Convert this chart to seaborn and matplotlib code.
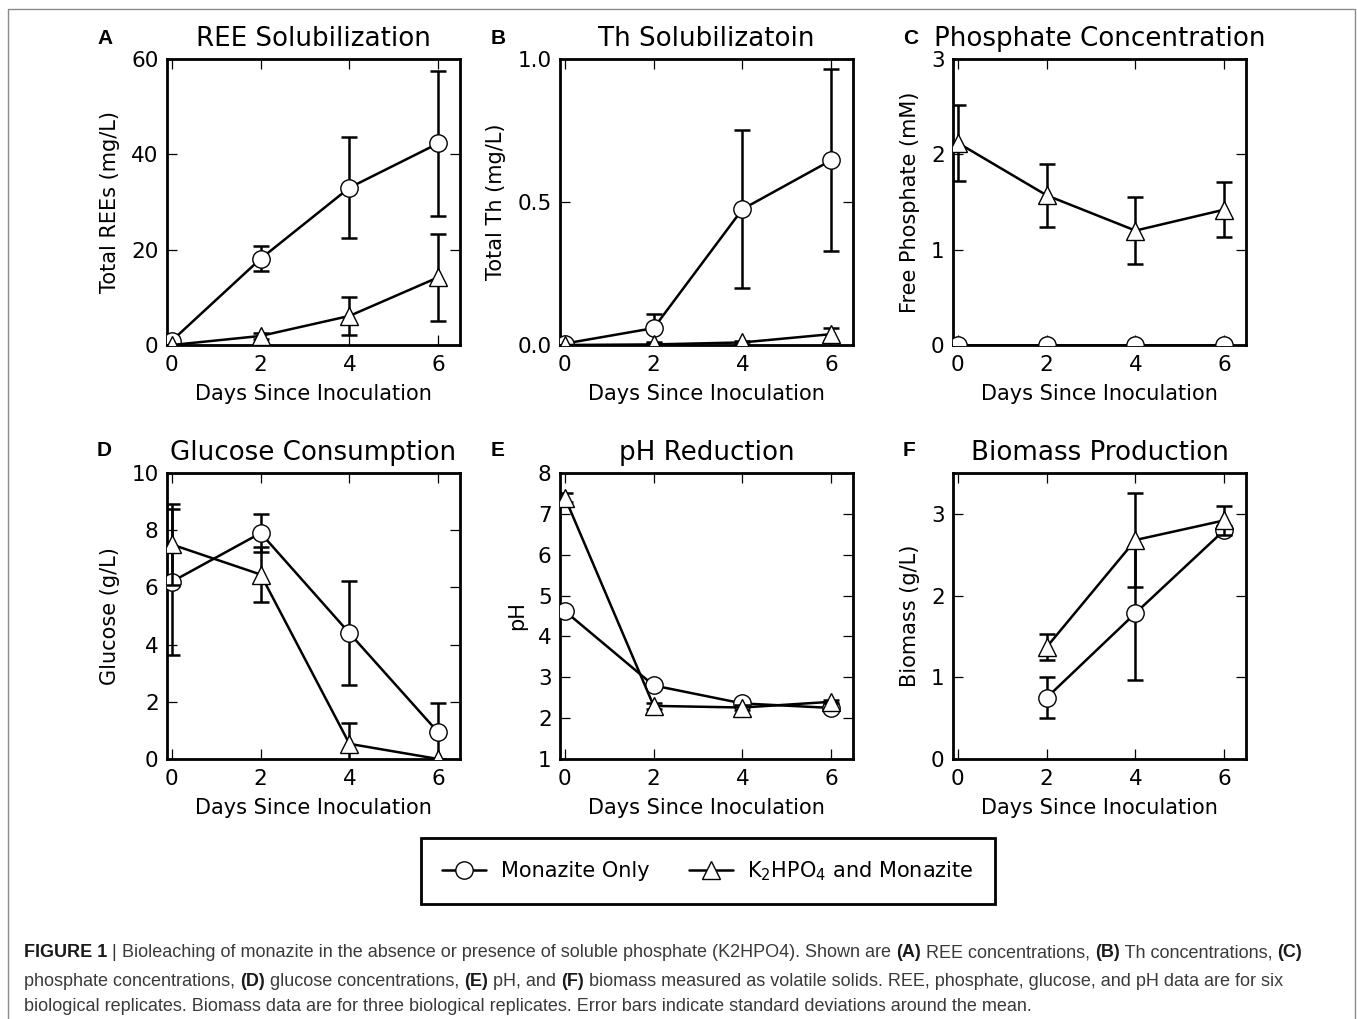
import numpy as np
import pandas as pd
import matplotlib
matplotlib.use("Agg")
import matplotlib.pyplot as plt
from matplotlib.lines import Line2D
from matplotlib.patches import Rectangle
import seaborn as sns

# ---------------- data ----------------
days = [0, 2, 4, 6]
days_bio = [2, 4, 6]
groups = ["Monazite Only", "K$_2$HPO$_4$ and Monazite"]

ree_mon = [0.9, 18.1, 33.0, 42.3]
ree_mon_sd = [0.3, 2.6, 10.6, 15.2]
ree_k = [0.0, 1.9, 6.1, 14.2]
ree_k_sd = [0.1, 0.6, 3.9, 9.1]

th_mon = [0.005, 0.059, 0.475, 0.646]
th_mon_sd = [0.003, 0.05, 0.276, 0.318]
th_k = [0.0, 0.002, 0.009, 0.038]
th_k_sd = [0.001, 0.004, 0.004, 0.023]

phos_mon = [0.0, 0.0, 0.0, 0.0]
phos_mon_sd = [0.0, 0.0, 0.0, 0.0]
phos_k = [2.12, 1.57, 1.20, 1.42]
phos_k_sd = [0.40, 0.33, 0.35, 0.285]

glu_mon = [6.2, 7.9, 4.4, 0.93]
glu_mon_sd = [2.55, 0.65, 1.83, 1.03]
glu_k = [7.5, 6.45, 0.53, 0.0]
glu_k_sd = [1.4, 0.95, 0.73, 0.0]

ph_mon = [4.62, 2.80, 2.36, 2.25]
ph_mon_sd = [0.05, 0.05, 0.05, 0.05]
ph_k = [7.40, 2.30, 2.26, 2.40]
ph_k_sd = [0.10, 0.08, 0.05, 0.04]

bio_mon = [0.75, 1.785, 2.80]
bio_mon_sd = [0.25, 0.815, 0.05]
bio_k = [1.37, 2.68, 2.92]
bio_k_sd = [0.16, 0.57, 0.18]

letters = ["A", "B", "C", "D", "E", "F"]
titles = ["REE Solubilization", "Th Solubilizatoin", "Phosphate Concentration",
          "Glucose Consumption", "pH Reduction", "Biomass Production"]
ylabels = ["Total REEs (mg/L)", "Total Th (mg/L)", "Free Phosphate (mM)",
           "Glucose (g/L)", "pH", "Biomass (g/L)"]
xlabel = "Days Since Inoculation"
ylims = [(0, 60), (0, 1.0), (0, 3), (0, 10), (1, 8), (0, 3.5)]
yticks = [[0, 20, 40, 60], [0.0, 0.5, 1.0], [0, 1, 2, 3],
          [0, 2, 4, 6, 8, 10], [1, 2, 3, 4, 5, 6, 7, 8], [0, 1, 2, 3]]
yticklabels = [["0", "20", "40", "60"], ["0.0", "0.5", "1.0"], ["0", "1", "2", "3"],
               ["0", "2", "4", "6", "8", "10"], [str(v) for v in range(1, 9)],
               ["0", "1", "2", "3"]]
xticks = [0, 2, 4, 6]

panels = [
    (days, ree_mon, ree_mon_sd, days, ree_k, ree_k_sd),
    (days, th_mon, th_mon_sd, days, th_k, th_k_sd),
    (days, phos_mon, phos_mon_sd, days, phos_k, phos_k_sd),
    (days, glu_mon, glu_mon_sd, days, glu_k, glu_k_sd),
    (days, ph_mon, ph_mon_sd, days, ph_k, ph_k_sd),
    (days_bio, bio_mon, bio_mon_sd, days_bio, bio_k, bio_k_sd),
]

caption_lines = [
    [("FIGURE 1", True), (" | ", False),
     ("Bioleaching of monazite in the absence or presence of soluble phosphate (K2HPO4). Shown are ", False),
     ("(A)", True), (" REE concentrations, ", False), ("(B)", True),
     (" Th concentrations, ", False), ("(C)", True)],
    [("phosphate concentrations, ", False), ("(D)", True), (" glucose concentrations, ", False),
     ("(E)", True), (" pH, and ", False), ("(F)", True),
     (" biomass measured as volatile solids. REE, phosphate, glucose, and pH data are for six", False)],
    [("biological replicates. Biomass data are for three biological replicates. Error bars indicate standard deviations around the mean.", False)],
]

# ---------------- style ----------------
sns.set_style("ticks")
plt.rcParams.update({
    "font.family": ["DejaVu Sans"],
    "xtick.direction": "in", "ytick.direction": "in",
    "xtick.top": True, "ytick.right": True,
    "xtick.major.size": 7, "ytick.major.size": 7,
    "xtick.major.width": 0.9, "ytick.major.width": 0.9,
    "xtick.major.pad": 7, "ytick.major.pad": 6,
    "axes.linewidth": 2.0, "axes.edgecolor": "black",
    "xtick.color": "black", "ytick.color": "black",
    "text.color": "black", "axes.labelcolor": "black",
})

W, H = 1357, 1019
fig = plt.figure(figsize=(W / 100, H / 100), dpi=100)
fig.patch.set_facecolor("white")

lefts = [167, 560, 953]
tops = [59, 473]
aw, ah = 293, 286

lw = 1.8
ms = 12.5
markers = ["o", "^"]

for i in range(6):
    r, c = divmod(i, 3)
    x0 = lefts[c] / W
    y0 = 1 - (tops[r] + ah) / H
    ax = fig.add_axes([x0, y0, aw / W, ah / H])
    d1, m1, s1, d2, m2, s2 = panels[i]
    sets = [(d1, m1, s1), (d2, m2, s2)]
    for g, (dd, mm, ss) in enumerate(sets):
        z = 2 + 2 * g
        ax.errorbar(dd, mm, yerr=ss, fmt="none", ecolor="black", elinewidth=lw,
                    capsize=6, capthick=lw, zorder=z)
        df = pd.DataFrame({"day": dd, "value": mm})
        sns.lineplot(data=df, x="day", y="value", ax=ax, color="black",
                     linewidth=lw, marker=markers[g], markersize=ms,
                     markerfacecolor="white", markeredgecolor="black",
                     markeredgewidth=1.0, zorder=z + 1, legend=False)
    ax.set_xlim(-0.11, 6.49)
    ax.set_ylim(*ylims[i])
    ax.set_xticks(xticks)
    ax.set_xticklabels([str(v) for v in xticks], fontsize=15.5)
    ax.set_yticks(yticks[i])
    ax.set_yticklabels(yticklabels[i], fontsize=15.5)
    ax.set_xlabel(xlabel, fontsize=15, labelpad=7)
    ax.set_ylabel(ylabels[i], fontsize=15, labelpad=8)
    ax.set_title(titles[i], fontsize=18.8, pad=9.5)
    for sp in ax.spines.values():
        sp.set_visible(True)
        sp.set_linewidth(2.0)
    lx = [97, 491, 903][c]
    ly = [39, 450][r]
    fig.text(lx / W, 1 - ly / H, letters[i], fontsize=15, fontweight="bold",
             family=["Liberation Sans", "DejaVu Sans"], ha="left", va="center")

# legend
handles = [Line2D([], [], color="black", lw=lw, marker=m, markersize=ms,
                  markerfacecolor="white", markeredgecolor="black", markeredgewidth=1.0)
           for m in markers]
leg = fig.legend(handles, groups, loc="center", bbox_to_anchor=(708 / W, 1 - 871 / H),
                 ncol=2, fontsize=15, frameon=True, fancybox=False,
                 handlelength=2.1, handletextpad=0.7, columnspacing=1.9,
                 borderpad=1.0, borderaxespad=0)
fr = leg.get_frame()
fr.set_edgecolor("black")
fr.set_linewidth(2.0)
fr.set_alpha(1)

# border
fig.add_artist(Rectangle((8 / W, -0.05), (1355 - 8) / W, 1.05 - 9 / H,
                         transform=fig.transFigure, fill=False,
                         edgecolor="#8a8a8a", linewidth=1.0))

# caption
fig.canvas.draw()
renderer = fig.canvas.get_renderer()
cap_family = ["Liberation Sans", "DejaVu Sans"]
base_ys = [957, 986, 1011]
for line, by in zip(caption_lines, base_ys):
    xpix = 24
    for txt, bold in line:
        t = fig.text(xpix / W, 1 - by / H, txt, fontsize=13,
                     fontweight="bold" if bold else "normal",
                     color="#1a1a1a" if bold else "#3a3a3a",
                     family=cap_family, ha="left", va="baseline")
        ext = t.get_window_extent(renderer)
        xpix = ext.x1

fig.savefig("out.png", dpi=100, facecolor="white")
